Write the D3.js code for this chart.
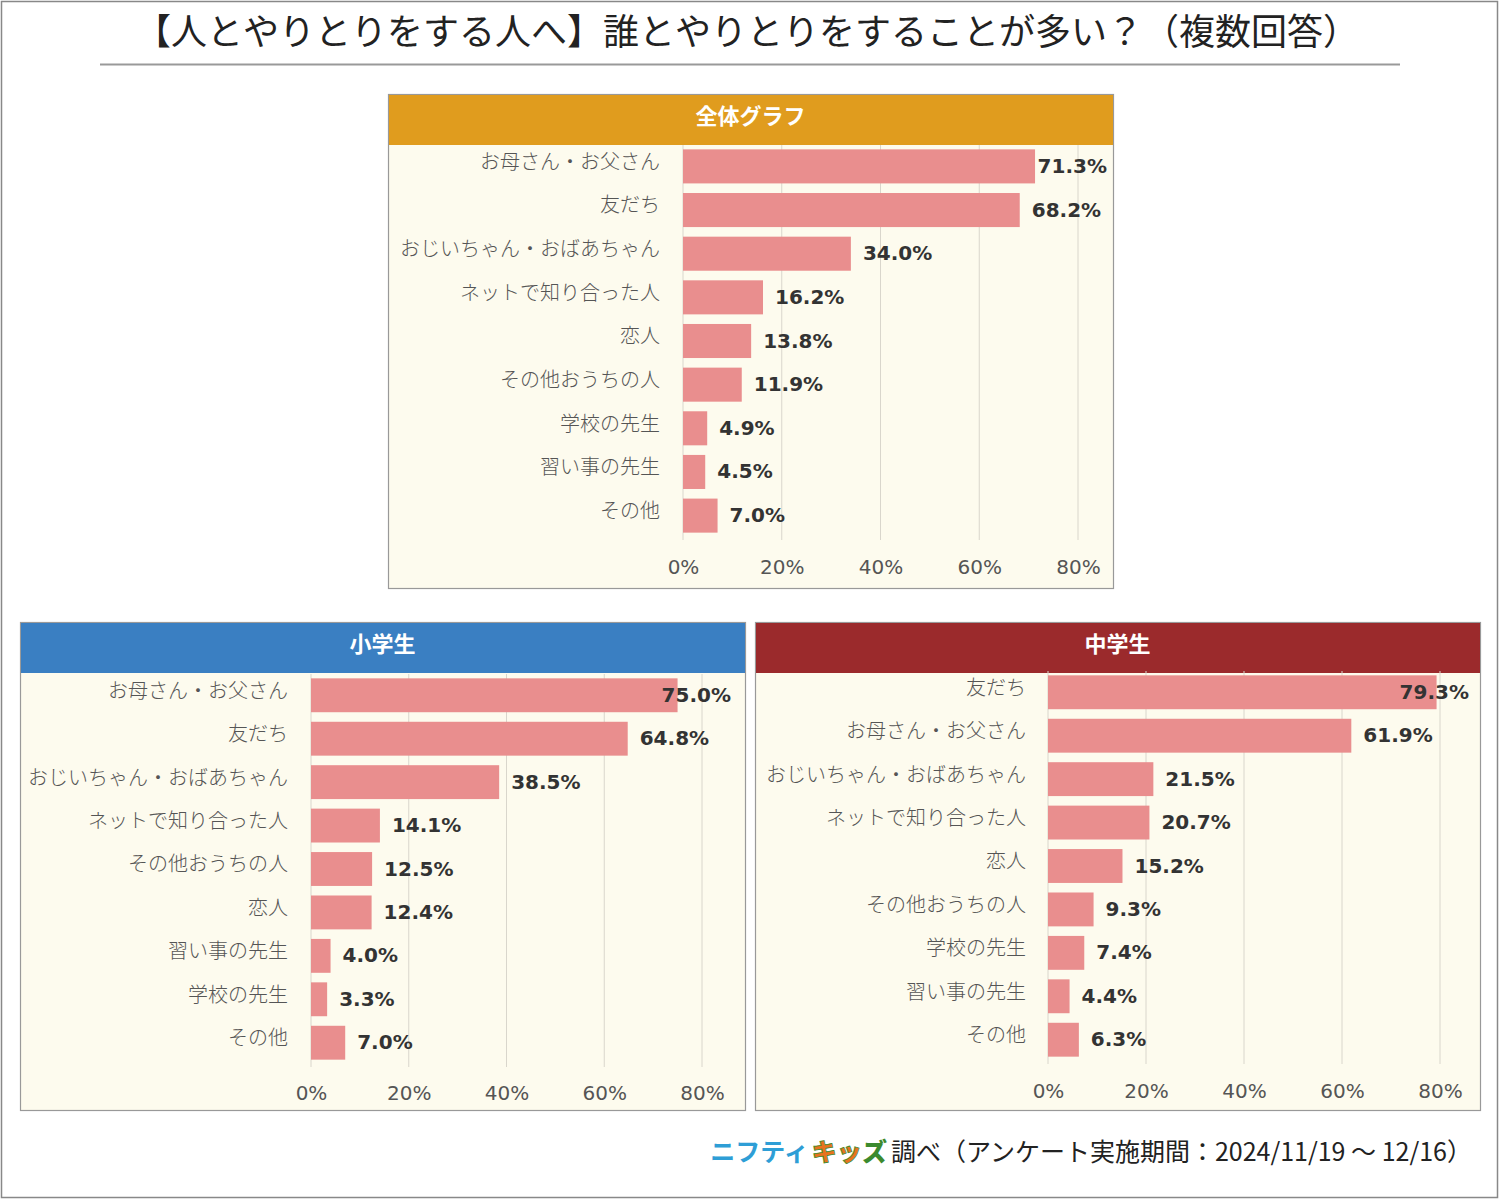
<!DOCTYPE html>
<html><head><meta charset="utf-8">
<script src="https://cdn.jsdelivr.net/npm/d3@7"></script>
<style>
body{margin:0;background:#fff;}
svg{display:block;}
</style></head>
<body>
<svg id="c" width="1500" height="1200"></svg>
<script>
// ---- data ----
const titleText = "【人とやりとりをする人へ】誰とやりとりをすることが多い？（複数回答）";
const tickValues = [0, 20, 40, 60, 80];

const allCategories = ["お母さん・お父さん","友だち","おじいちゃん・おばあちゃん","ネットで知り合った人","恋人","その他おうちの人","学校の先生","習い事の先生","その他"];
const allValues = [71.3, 68.2, 34.0, 16.2, 13.8, 11.9, 4.9, 4.5, 7.0];

const elemCategories = ["お母さん・お父さん","友だち","おじいちゃん・おばあちゃん","ネットで知り合った人","その他おうちの人","恋人","習い事の先生","学校の先生","その他"];
const elemValues = [75.0, 64.8, 38.5, 14.1, 12.5, 12.4, 4.0, 3.3, 7.0];

const juniorCategories = ["友だち","お母さん・お父さん","おじいちゃん・おばあちゃん","ネットで知り合った人","恋人","その他おうちの人","学校の先生","習い事の先生","その他"];
const juniorValues = [79.3, 61.9, 21.5, 20.7, 15.2, 9.3, 7.4, 4.4, 6.3];

const panelTitles = ["全体グラフ","小学生","中学生"];

// ---- drawing ----
const svg = d3.select("#c");
const JP = "'Noto Sans CJK JP','Noto Sans',sans-serif";
const NUM = "'DejaVu Sans',Verdana,sans-serif";

svg.append("rect").attr("x",1.5).attr("y",1.5).attr("width",1496).attr("height",1196)
  .attr("fill","#fff").attr("stroke","#888").attr("stroke-width",1.5);

svg.append("text").attr("x",747).attr("y",45).attr("text-anchor","middle")
  .attr("font-family",JP).attr("font-size",36).attr("font-weight",400).attr("fill","#222").text(titleText);
svg.append("line").attr("x1",100).attr("x2",1400).attr("y1",64.5).attr("y2",64.5)
  .attr("stroke","#999").attr("stroke-width",2);

const panels = [
  {x:388,y:94,w:725,h:494,head:"#E09C1E",title:panelTitles[0],cats:allCategories,vals:allValues,
   x0:683,x80:1078,yTop:145,yBottom:537,tickY:566,labelX:660,maxRight:1107},
  {x:20,y:622,w:725,h:488,head:"#3A7FC2",title:panelTitles[1],cats:elemCategories,vals:elemValues,
   x0:311,x80:702,yTop:674,yBottom:1064,tickY:1092,labelX:288,maxRight:731},
  {x:755,y:622,w:725,h:488,head:"#9B2A2C",title:panelTitles[2],cats:juniorCategories,vals:juniorValues,
   x0:1048,x80:1440,yTop:671,yBottom:1061,tickY:1090,labelX:1026,maxRight:1469}
];

panels.forEach(p => {
  const g = svg.append("g");
  g.append("rect").attr("x",p.x+0.5).attr("y",p.y+0.5).attr("width",p.w).attr("height",p.h)
    .attr("fill","#FDFBEE").attr("stroke","#999").attr("stroke-width",1.2);
  g.append("rect").attr("x",p.x+1).attr("y",p.y+1).attr("width",p.w-1).attr("height",50).attr("fill",p.head);
  g.append("text").attr("x",p.x+p.w/2).attr("y",p.y+30).attr("text-anchor","middle")
    .attr("font-family",JP).attr("font-weight","bold").attr("font-size",22).attr("fill","#fff").text(p.title);

  const x = d3.scaleLinear().domain([0,80]).range([p.x0,p.x80]);
  const y = d3.scaleBand().domain(p.cats).range([p.yTop,p.yBottom]).paddingInner(0.22).paddingOuter(0.1);

  // gridlines
  g.selectAll("line.grid").data(tickValues).join("line")
    .attr("x1",d=>x(d)).attr("x2",d=>x(d)).attr("y1",p.yTop).attr("y2",p.yBottom+3)
    .attr("stroke","#D9D6CC").attr("stroke-width",1);

  // axis tick labels
  const ax = d3.axisBottom(x).tickValues(tickValues).tickFormat(d=>d+"%").tickSize(0).tickPadding(0);
  const axg = g.append("g").attr("transform",`translate(0,${p.tickY-10})`).call(ax);
  axg.select(".domain").remove();
  axg.selectAll("text").attr("font-family",NUM).attr("font-size",20).attr("fill","#555").attr("dy","0.9em");

  // bars
  g.selectAll("rect.bar").data(p.cats).join("rect").attr("class","bar")
    .attr("x",x(0)).attr("y",c=>y(c)).attr("height",y.bandwidth())
    .attr("width",(c,i)=>x(p.vals[i])-x(0)).attr("fill","#E98E8E");

  // category labels
  g.selectAll("text.cat").data(p.cats).join("text").attr("class","cat")
    .attr("x",p.labelX).attr("y",c=>y(c)+y.bandwidth()/2-3).attr("text-anchor","end")
    .attr("dominant-baseline","middle")
    .attr("font-family",JP).attr("font-size",20).attr("font-weight",300).attr("fill","#555").text(c=>c);

  // value labels
  g.selectAll("text.val").data(p.cats).join("text").attr("class","val")
    .attr("y",c=>y(c)+y.bandwidth()/2+1)
    .attr("dominant-baseline","middle")
    .attr("font-family",NUM).attr("font-weight","bold").attr("font-size",20).attr("fill","#333")
    .text((c,i)=>p.vals[i].toFixed(1)+"%")
    .each(function(c,i){
      const w = this.getComputedTextLength();
      let xs = x(p.vals[i]) + 12;
      if (xs + w > p.maxRight) xs = p.maxRight - w;
      d3.select(this).attr("x", xs);
    });
});

// footer
const ft = svg.append("text").attr("x",1472).attr("y",1161).attr("text-anchor","end")
  .attr("font-family",JP).attr("font-size",25).attr("fill","#222");
ft.append("tspan").attr("fill","#2E9ED6").attr("font-weight","bold").attr("font-size",25).text("ニフティ");
ft.append("tspan").attr("dx",3).attr("fill","#E8731E").attr("font-weight","900").attr("font-size",25)
  .attr("stroke","#3C8A2E").attr("stroke-width",0.8).text("キッ");
ft.append("tspan").attr("fill","#3C8A2E").attr("font-weight","900").attr("font-size",25).text("ズ");
ft.append("tspan").attr("dx",4).text("調べ（アンケート実施期間：2024/11/19 ～ 12/16）");
</script>
</body></html>
